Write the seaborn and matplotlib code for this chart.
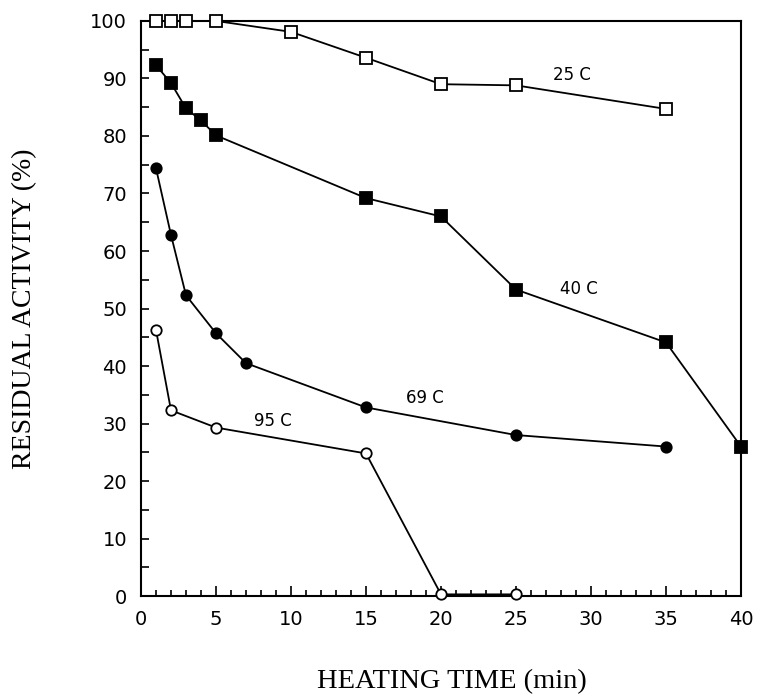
import matplotlib
matplotlib.use("Agg")
import matplotlib.pyplot as plt
import seaborn as sns
from matplotlib.ticker import MultipleLocator

# heating time (min) and residual activity (%) per temperature
t_25 = [1, 2, 3, 5, 10, 15, 20, 25, 35]
act_25 = [100, 100, 100, 100, 98.1, 93.6, 89.0, 88.8, 84.7]

t_40 = [1, 2, 3, 4, 5, 15, 20, 25, 35, 40]
act_40 = [92.3, 89.2, 84.8, 82.7, 80.1, 69.2, 66.0, 53.3, 44.1, 26.0]

t_69 = [1, 2, 3, 5, 7, 15, 25, 35]
act_69 = [74.4, 62.8, 52.3, 45.7, 40.5, 32.8, 28.0, 26.0]

t_95 = [1, 2, 5, 15, 20, 25]
act_95 = [46.3, 32.3, 29.3, 24.8, 0.3, 0.3]

labels = ["25 C", "40 C", "69 C", "95 C"]
label_x = [28.7, 29.2, 18.9, 8.8]
label_y = [90.6, 53.4, 34.5, 30.5]

sns.set_style("ticks")
plt.rcParams['font.family'] = ['DejaVu Sans']
plt.rcParams['text.color'] = 'black'
plt.rcParams['axes.labelcolor'] = 'black'

fig = plt.figure(figsize=(7.6, 6.98), dpi=100)
ax = fig.add_axes([0.1855, 0.146, 0.7895, 0.824])

series = [
    (t_25, act_25, 's', 'white', 8),
    (t_40, act_40, 's', 'black', 8),
    (t_69, act_69, 'o', 'black', 7.5),
    (t_95, act_95, 'o', 'white', 7.5),
]
for x, y, m, fc, ms in series:
    sns.lineplot(x=x, y=y, ax=ax, color='black', linewidth=1.3,
                 marker=m, markersize=ms, markerfacecolor=fc,
                 markeredgecolor='black', markeredgewidth=1.3,
                 clip_on=False, zorder=3)

for lab, lx, ly in zip(labels, label_x, label_y):
    ax.text(lx, ly, lab, fontsize=12, ha='center', va='center', color='black')

ax.set_xlim(0, 40)
ax.set_ylim(0, 100)
ax.xaxis.set_major_locator(MultipleLocator(5))
ax.xaxis.set_minor_locator(MultipleLocator(1))
ax.yaxis.set_major_locator(MultipleLocator(10))
ax.yaxis.set_minor_locator(MultipleLocator(5))
ax.tick_params(axis='both', which='both', direction='in', labelsize=14,
               width=1.2, colors='black')
ax.tick_params(axis='x', which='major', length=7, pad=10)
ax.tick_params(axis='x', which='minor', length=4)
ax.tick_params(axis='y', which='both', length=6, pad=10)

for sp in ax.spines.values():
    sp.set_visible(True)
    sp.set_linewidth(1.5)
    sp.set_color('black')

ax.set_xlabel("HEATING TIME (min)", fontsize=20.5, family='Liberation Serif')
ax.xaxis.set_label_coords(0.518, -0.127)
ax.set_ylabel("RESIDUAL ACTIVITY (%)", fontsize=20, family='Liberation Serif',
              labelpad=38)

fig.savefig("out.png", dpi=100)
